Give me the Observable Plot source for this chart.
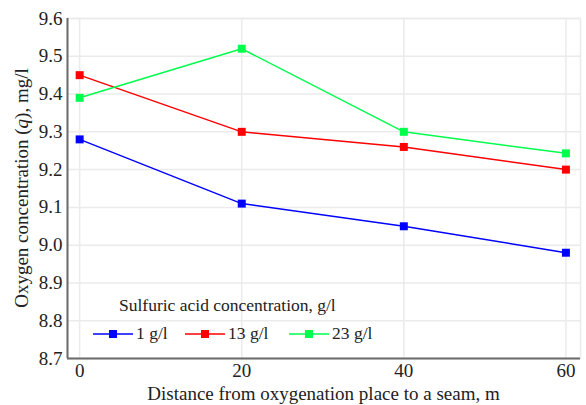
<!DOCTYPE html>
<html><head><meta charset="utf-8">
<script src="https://cdn.jsdelivr.net/npm/d3@7"></script>
<script src="https://cdn.jsdelivr.net/npm/@observablehq/plot@0.6"></script>
<style>
body{margin:0;background:#fff;font-family:"Liberation Serif", "Times New Roman", serif}
#xlabel{margin-left:67px;width:513px;height:23px;font-family:"Liberation Serif", "Times New Roman", serif;font-size:19px;line-height:23px;text-align:center;color:#222;white-space:nowrap}
</style>
</head><body><div id="chart"></div><div id="xlabel"></div>
<script>
const distances = [0, 20, 40, 60];
const seriesNames = ["1 g/l", "13 g/l", "23 g/l"];
const conc1 = [9.28, 9.11, 9.05, 8.98];
const conc13 = [9.45, 9.30, 9.26, 9.20];
const conc23 = [9.39, 9.52, 9.30, 9.243];
const seriesColors = ["#0000ff", "#ff0000", "#00ff4c"];
const yTicks = [8.7, 8.8, 8.9, 9.0, 9.1, 9.2, 9.3, 9.4, 9.5, 9.6];
const xTicks = [0, 20, 40, 60];
const legendTitle = "Sulfuric acid concentration, g/l";
const xLabel = "Distance from oxygenation place to a seam, m";

const allSeries = [conc1, conc13, conc23];
const data = [];
allSeries.forEach((vals, i) => vals.forEach((v, j) => data.push({x: distances[j], y: v, s: seriesNames[i]})));

const xDomain = [-1.5, 61.8];
const yDomain = [8.7, 9.6];

const chart = Plot.plot({
  width: 586, height: 382,
  marginLeft: 67, marginRight: 6, marginTop: 18, marginBottom: 24,
  style: {fontFamily: "Liberation Serif", fontSize: "18px"},
  x: {domain: xDomain, label: null},
  y: {domain: yDomain, label: null},
  color: {domain: seriesNames, range: seriesColors},
  marks: [
    Plot.frame({stroke: "#ebebeb", strokeWidth: 1.5}),
    Plot.ruleX(xTicks, {stroke: "#ebebeb", strokeWidth: 1.5}),
    Plot.ruleY(yTicks, {stroke: "#ebebeb", strokeWidth: 1.5}),
    Plot.line(data, {x: "x", y: "y", z: "s", stroke: "s", strokeWidth: 1.5}),
    Plot.dot(data, {x: "x", y: "y", fill: "s", symbol: "square", r: 4.5}),
    Plot.ruleY([yDomain[0]], {stroke: "#6b6b6b", strokeWidth: 2}),
    Plot.ruleX([xDomain[0]], {stroke: "#6b6b6b", strokeWidth: 2}),
    Plot.axisX(xTicks, {tickSize: 0, tickPadding: 5, fontSize: 19, fill: "#222"}),
    Plot.axisY(yTicks, {tickSize: 0, tickPadding: 5, tickFormat: d3.format(".1f"), fontSize: 19, fill: "#222"})
  ]
});
document.getElementById("chart").appendChild(chart);
document.getElementById("xlabel").textContent = xLabel;

const svg = d3.select(chart);
const yl = svg.append("text").attr("transform", "translate(28,188) rotate(-90)").attr("text-anchor", "middle")
  .attr("font-size", 19).attr("fill", "#222");
yl.append("tspan").text("Oxygen concentration (");
yl.append("tspan").attr("font-style", "italic").text("q");
yl.append("tspan").text("), mg/l");
const lg = svg.append("g").attr("font-size", 17.5).attr("text-anchor", "start");
lg.append("text").attr("x", 119).attr("y", 311).attr("fill", "#222").text(legendTitle);
const itemX = [93, 185, 289];
seriesNames.forEach((name, i) => {
  const x0 = itemX[i];
  lg.append("line").attr("x1", x0).attr("x2", x0 + 40).attr("y1", 334).attr("y2", 334)
    .attr("stroke", seriesColors[i]).attr("stroke-width", 1.5);
  lg.append("rect").attr("x", x0 + 16).attr("y", 330).attr("width", 8).attr("height", 8).attr("fill", seriesColors[i]);
  lg.append("text").attr("x", x0 + 43).attr("y", 339).attr("fill", "#222").text(name);
});
</script></body></html>
